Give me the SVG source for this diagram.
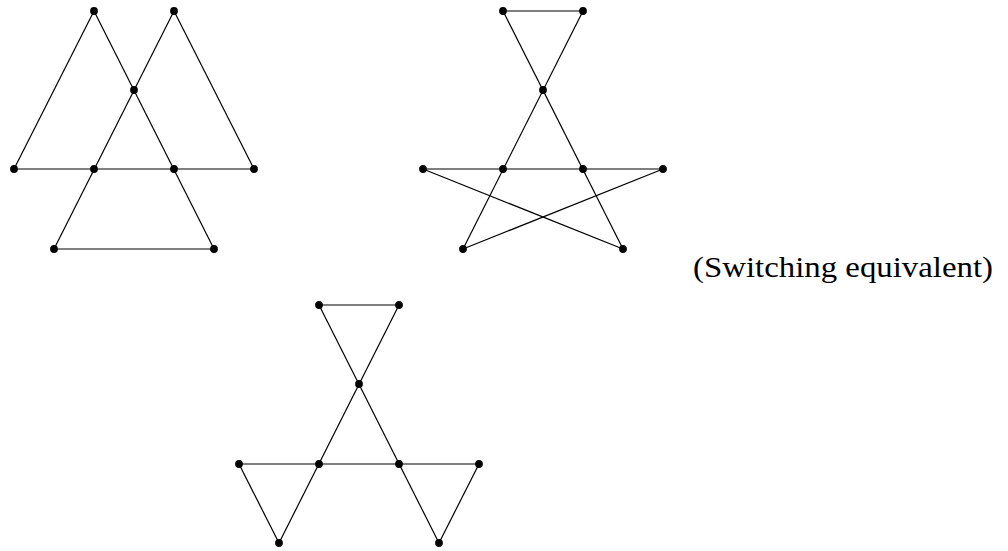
<svg xmlns="http://www.w3.org/2000/svg" width="1008" height="551" viewBox="0 0 1008 551">
<style>
.e{stroke:#000;stroke-width:1.2;fill:none}
.v{fill:#000}
</style>
<defs><circle id="d" r="3.9"/></defs>
<rect width="1008" height="551" fill="#fff"/>
<g id="connectors">
<g id="g1-edges">
<line class="e" x1="94" y1="11" x2="14" y2="169"/>
<line class="e" x1="94" y1="11" x2="214" y2="249"/>
<line class="e" x1="174" y1="11" x2="254" y2="169"/>
<line class="e" x1="174" y1="11" x2="54" y2="249"/>
<line class="e" x1="14" y1="169" x2="254" y2="169"/>
<line class="e" x1="54" y1="249" x2="214" y2="249"/>
</g>
<g id="g2-edges">
<line class="e" x1="503" y1="11" x2="583" y2="11"/>
<line class="e" x1="503" y1="11" x2="623" y2="249"/>
<line class="e" x1="583" y1="11" x2="463" y2="249"/>
<line class="e" x1="423" y1="169" x2="663" y2="169"/>
<line class="e" x1="423" y1="169" x2="623" y2="249"/>
<line class="e" x1="663" y1="169" x2="463" y2="249"/>
</g>
<g id="g3-edges">
<line class="e" x1="319" y1="305" x2="399" y2="305"/>
<line class="e" x1="319" y1="305" x2="439" y2="543"/>
<line class="e" x1="399" y1="305" x2="279" y2="543"/>
<line class="e" x1="239" y1="464" x2="479" y2="464"/>
<line class="e" x1="239" y1="464" x2="279" y2="543"/>
<line class="e" x1="479" y1="464" x2="439" y2="543"/>
</g>
</g>
<g id="graph1" class="v">
<use href="#d" x="94" y="11"/><use href="#d" x="174" y="11"/><use href="#d" x="134" y="90"/>
<use href="#d" x="14" y="169"/><use href="#d" x="94" y="169"/><use href="#d" x="174" y="169"/><use href="#d" x="254" y="169"/>
<use href="#d" x="54" y="249"/><use href="#d" x="214" y="249"/>
</g>
<g id="graph2" class="v">
<use href="#d" x="503" y="11"/><use href="#d" x="583" y="11"/><use href="#d" x="543" y="90"/>
<use href="#d" x="423" y="169"/><use href="#d" x="503" y="169"/><use href="#d" x="583" y="169"/><use href="#d" x="663" y="169"/>
<use href="#d" x="463" y="249"/><use href="#d" x="623" y="249"/>
</g>
<g id="graph3" class="v">
<use href="#d" x="319" y="305"/><use href="#d" x="399" y="305"/><use href="#d" x="359" y="384"/>
<use href="#d" x="239" y="464"/><use href="#d" x="319" y="464"/><use href="#d" x="399" y="464"/><use href="#d" x="479" y="464"/>
<use href="#d" x="279" y="543"/><use href="#d" x="439" y="543"/>
</g>
<g id="label">
<text x="693" y="277" font-family="'Liberation Serif', 'Times New Roman', serif" font-size="29" fill="#000" textLength="300" lengthAdjust="spacingAndGlyphs">(Switching equivalent)</text>
</g>
</svg>
